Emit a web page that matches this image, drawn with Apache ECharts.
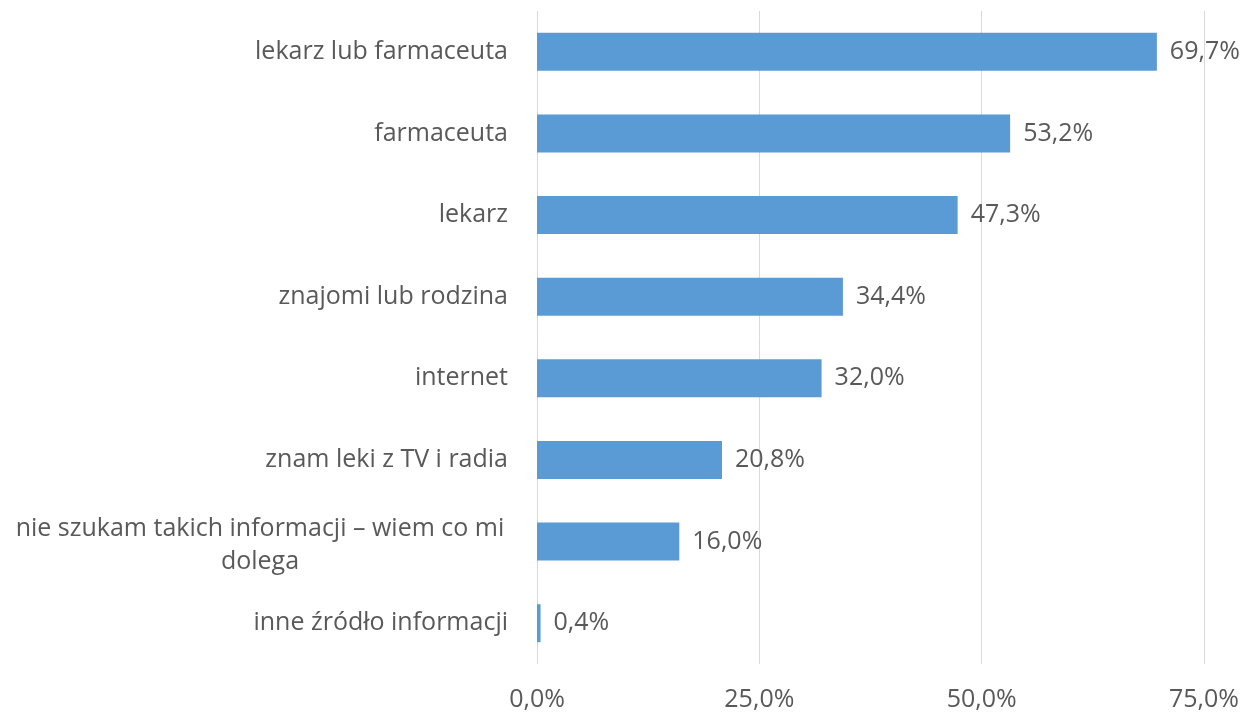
<!DOCTYPE html>
<html>
<head>
<meta charset="utf-8">
<script src="https://cdn.jsdelivr.net/npm/echarts@6/dist/echarts.min.js"></script>
<style>
  html, body { margin: 0; padding: 0; background: #fff; }
  #chart { width: 1254px; height: 715px; }
</style>
</head>
<body>
<div id="chart"></div>
<script>
  // dane (od góry do dołu)
  var categories = [
    'lekarz lub farmaceuta',
    'farmaceuta',
    'lekarz',
    'znajomi lub rodzina',
    'internet',
    'znam leki z TV i radia',
    'nie szukam takich informacji – wiem co mi\ndolega',
    'inne źródło informacji'
  ];
  var values = [69.7, 53.2, 47.3, 34.4, 32.0, 20.8, 16.0, 0.4];
  var tickValues = [0, 25, 50, 75];

  function pct(v) {
    return v.toFixed(1).replace('.', ',') + '%';
  }

  var textColor = '#595959';
  var font = '"Open Sans", "Noto Sans", sans-serif';

  var chart = echarts.init(document.getElementById('chart'));
  chart.setOption({
    animation: false,
    textStyle: { fontFamily: font },
    grid: { left: 537, right: 50, top: 11, bottom: 51, containLabel: false },
    xAxis: {
      type: 'value',
      min: tickValues[0],
      max: tickValues[tickValues.length - 1],
      interval: 25,
      axisLine: { show: false },
      axisTick: { show: false },
      splitLine: { lineStyle: { color: '#d9d9d9', width: 1 } },
      axisLabel: {
        margin: 23,
        color: textColor,
        fontSize: 25,
        fontFamily: font,
        formatter: function (v) { return pct(v); }
      }
    },
    yAxis: {
      type: 'category',
      data: categories,
      inverse: true,
      axisLine: { show: false },
      axisTick: { show: false },
      axisLabel: {
        margin: 29,
        color: textColor,
        fontSize: 25,
        fontFamily: font,
        align: 'right',
        lineHeight: 33,
        formatter: function (v) {
          // zawinięta etykieta jest wyśrodkowana
          return v.indexOf('\n') >= 0 ? '{w|' + v + '}' : v;
        },
        rich: {
          w: {
            width: 496,
            align: 'center',
            fontSize: 25,
            lineHeight: 33,
            padding: [7, 0, 0, 0],
            color: textColor,
            fontFamily: font
          }
        }
      }
    },
    series: [{
      type: 'bar',
      data: values,
      barWidth: 38,
      itemStyle: { color: '#5b9bd5' },
      label: {
        show: true,
        position: 'right',
        distance: 13,
        color: textColor,
        fontSize: 25,
        fontFamily: font,
        formatter: function (p) { return pct(p.value); }
      }
    }]
  });
</script>
</body>
</html>
